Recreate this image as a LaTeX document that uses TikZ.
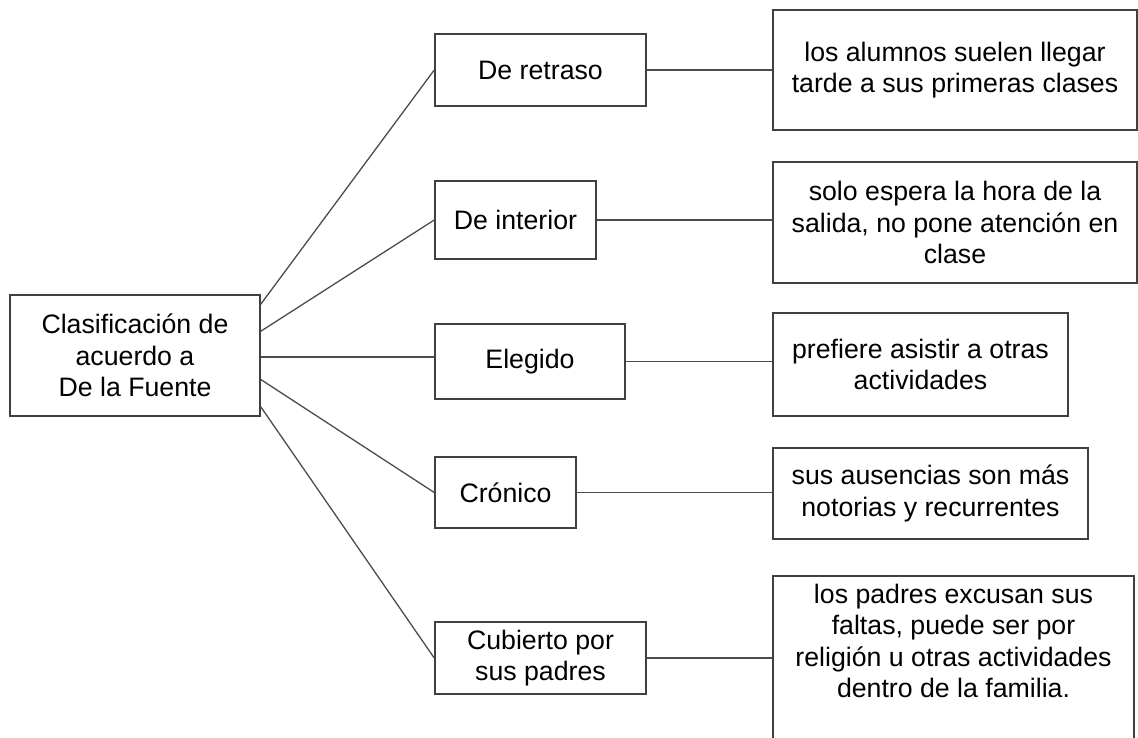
\documentclass[tikz,border=0pt]{standalone}
\usepackage{fontspec}
\setmainfont{Liberation Sans}
\usepackage{tikz}

\begin{document}
\begin{tikzpicture}[x=1pt, y=-1pt,
  box/.style={draw=black!75, line width=1.5pt, rectangle, align=center, inner sep=0pt,
    font=\fontsize{26.7}{31.5}\selectfont},
  link/.style={draw=black!70, line width=1.3pt}]
  \useasboundingbox (0,0) rectangle (1138,738);

  % Root
  \node[box, minimum width=250, minimum height=121] (root) at (135,355.5)
    {Clasificación de\\acuerdo a\\De la Fuente};

  % Types
  \foreach \name/\cx/\cy/\w/\h/\txt in {retraso/540.5/70/211/72/De retraso,
      interior/515.5/220/161/78/De interior, elegido/530/361.5/190/75/Elegido,
      cronico/505.5/492.5/141/71/Crónico, cubierto/540.5/658/211/72/{Cubierto por\\sus padres}}{
    \node[box, minimum width=\w, minimum height=\h] (\name) at (\cx,\cy) {\txt};
  }

  % Descriptions
  \foreach \name/\cx/\cy/\w/\h/\txt in {
      r1/955/70/364/120/{los alumnos suelen llegar\\tarde a sus primeras clases},
      r2/955/222.5/364/121/{solo espera la hora de la\\salida, no pone atención en\\clase},
      r3/920.5/364.5/295/103/{prefiere asistir a otras\\actividades},
      r4/930.5/493.5/315/91/{sus ausencias son más\\notorias y recurrentes}}{
    \node[box, minimum width=\w, minimum height=\h] (\name) at (\cx,\cy) {\txt};
  }
  \node[box, minimum width=361, inner ysep=8pt, anchor=north] (r5) at (953.5,575)
    {los padres excusan sus\\faltas, puede ser por\\religión u otras actividades\\dentro de la familia.\\[60pt]\mbox{}};

  % Connectors
  \draw[link] ([yshift=-10pt]root.north east) -- (retraso.west);
  \draw[link] ([yshift=-37pt]root.north east) -- (interior.west);
  \draw[link] ([yshift=-1.5pt]root.east) -- ([yshift=-1.5pt]root.east -| elegido.west);
  \draw[link] ([yshift=-24pt]root.east) -- (cronico.west);
  \draw[link] ([yshift=10pt]root.south east) -- (cubierto.west);
  \foreach \m/\r in {retraso/r1, interior/r2, elegido/r3, cronico/r4, cubierto/r5}
    \draw[link] (\m.east) -- (\m.east -| \r.west);
\end{tikzpicture}
\end{document}
